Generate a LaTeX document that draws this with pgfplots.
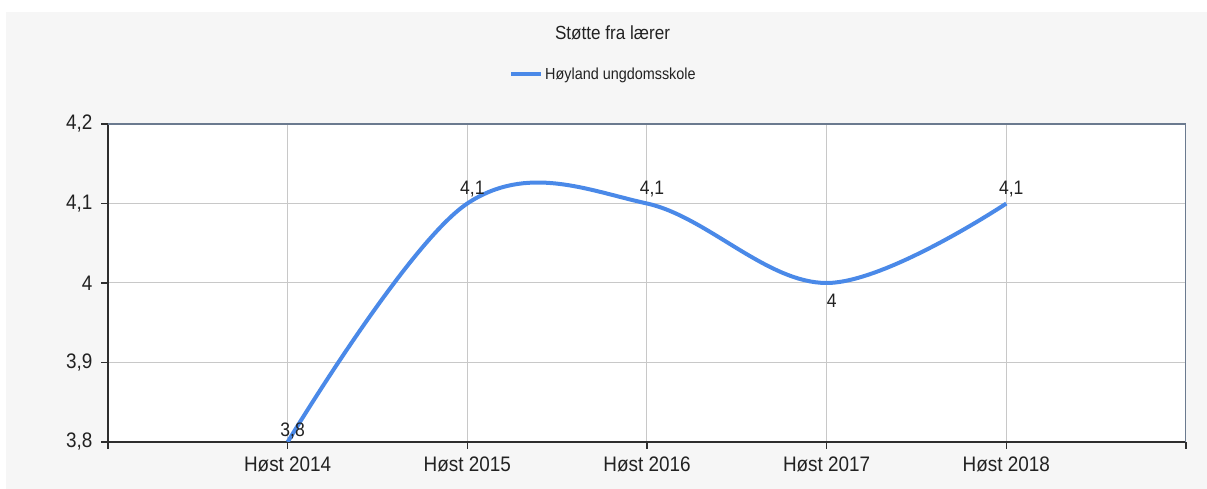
\documentclass[border=0pt]{standalone}
\usepackage{fontspec}
\setmainfont{Liberation Sans}[FakeStretch=0.9]
\usepackage{pgfplots}
\pgfplotsset{compat=1.18}
\definecolor{panel}{HTML}{F6F6F6}
\definecolor{lineblue}{HTML}{4A89E8}
\definecolor{gridgray}{HTML}{C8C8C8}
\definecolor{axdark}{HTML}{2E2E2E}
\definecolor{axslate}{HTML}{6B7A8F}
\definecolor{txt}{HTML}{222222}
\begin{document}
\begin{tikzpicture}[x=1pt,y=1pt]
\fill[white] (0,0) rectangle (1207,489);
\fill[panel] (6,0) rectangle (1207,477);
\node[font=\fontsize{19}{22}\selectfont, text=txt] at (612.5,456) {Støtte fra lærer};
\begin{axis}[
  at={(108pt,47pt)}, anchor=south west, scale only axis,
  width=1078pt, height=318pt,
  axis background/.style={fill=white},
  xmin=0, xmax=6, ymin=3.8, ymax=4.2,
  axis x line*=bottom, axis y line*=left,
  xtick={0,1,2,3,4,5,6},
  xticklabels={,Høst 2014,Høst 2015,Høst 2016,Høst 2017,Høst 2018,},
  ytick={3.8,3.9,4,4.1,4.2},
  /pgf/number format/use comma,
  /pgf/number format/assume math mode=true,
  grid=major,
  major grid style={gridgray, line width=1pt},
  axis line style={axdark, line width=1.8pt},
  tick style={axdark, line width=1.5pt},
  major tick length=7pt,
  tick align=outside,
  ticklabel style={font=\fontsize{21}{24}\selectfont, text=txt},
  xticklabel style={yshift=-4pt},
  yticklabel style={xshift=-5pt},
  legend style={at={(axis description cs:0.4596,1.157)}, anchor=center, draw=none, fill=none,
    font=\fontsize{16}{19}\selectfont, text=txt, inner sep=0pt},
  legend image code/.code={\draw[#1] (0pt,0pt) -- (30pt,0pt);},
  every node near coord/.append style={font=\fontsize{19.5}{22}\selectfont, text=txt, xshift=5pt},
]
\draw[axslate, line width=1.5pt] (rel axis cs:0,1) -- (rel axis cs:1,1) -- (rel axis cs:1,0);
\addplot[lineblue, line width=4pt, smooth, tension=0.6] coordinates {(1,3.8)(2,4.1)(3,4.1)(4,4.0)(5,4.1)};
\addlegendentry{Høyland ungdomsskole}
\addplot[draw=none, mark=none, nodes near coords, nodes near coords align={above},
  every node near coord/.append style={yshift=3pt}, forget plot]
  coordinates {(2,4.1)(3,4.1)(5,4.1)};
\addplot[draw=none, mark=none, nodes near coords, nodes near coords align={above},
  every node near coord/.append style={yshift=-1pt}, forget plot]
  coordinates {(1,3.8)};
\addplot[draw=none, mark=none, nodes near coords, nodes near coords align={below},
  every node near coord/.append style={yshift=-8pt}, forget plot]
  coordinates {(4,4.0)};
\end{axis}
\end{tikzpicture}
\end{document}
